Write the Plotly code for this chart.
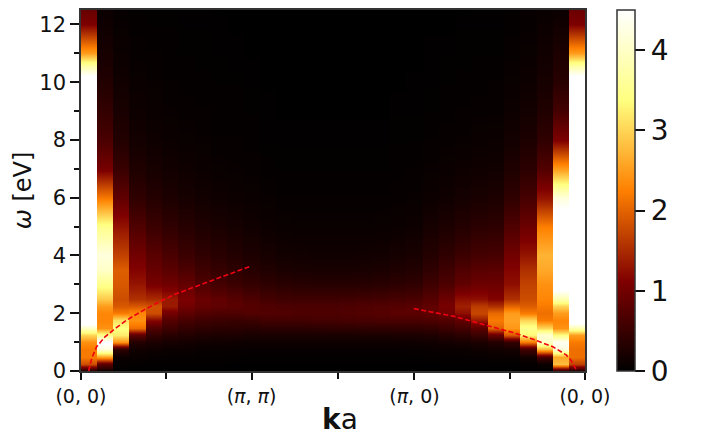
import plotly.graph_objects as go

omega = [0, .25, .5, .75, 1, 1.25, 1.5, 1.75, 2, 2.25, 2.5, 3, 3.5, 4, 5, 6, 7, 8, 9, 10, 10.5, 11, 12, 12.5]

col_00 = [.2, 1.8, 2.2, 2.2, 2.4, 3.0, 4.0, 5, 5, 5, 5, 5, 5, 5, 5, 5, 5, 5, 5, 5, 3.9, 2.5, 1.1, .9]
col_01 = [.1, .8, 2.5, 4.2, 4.6, 3.5, 2.4, 2.3, 2.3, 2.5, 2.9, 3.5, 4, 4.2, 3.5, 2.2, 1.05, .65, .45, .3, .25, .2, .13, .1]
col_02 = [0, .05, .1, .4, 2.4, 3.2, 3.4, 3.1, 2.2, 1.9, 1.8, 1.9, 1.95, 1.7, 1.3, .85, .5, .3, .22, .15, .12, .1, .07, .05]
col_03 = [0, .03, .08, .15, .3, .8, 2.1, 2.4, 2.3, 1.9, 1.55, 1.3, 1.15, 1, .7, .42, .27, .17, .12, .09, .07, .06, .04, .03]
col_04 = [0, .02, .06, .12, .25, .45, .7, 1.2, 1.8, 1.85, 1.5, 1.05, .9, .78, .52, .32, .2, .13, .09, .07, .05, .05, .03, .02]
col_05 = [0, .02, .05, .1, .2, .35, .55, .75, 1.0, 1.35, 1.35, .98, .8, .65, .42, .25, .16, .1, .07, .05, .04, .04, .03, .02]
col_06 = [0, .02, .05, .1, .18, .3, .45, .62, .82, 1.0, 1.08, .88, .68, .52, .34, .2, .13, .08, .06, .04, .04, .03, .02, .02]
col_07 = [0, .02, .04, .08, .15, .27, .4, .55, .72, .88, .92, .7, .55, .42, .27, .16, .1, .07, .05, .04, .03, .03, .02, .02]
col_08 = [0, .02, .04, .08, .14, .25, .38, .52, .68, .84, .84, .6, .47, .36, .23, .13, .08, .05, .04, .03, .03, .02, .02, .01]
col_09 = [0, .01, .04, .07, .13, .24, .37, .5, .68, .8, .76, .52, .4, .3, .19, .11, .07, .05, .04, .03, .02, .02, .01, .01]
col_10 = [0, .01, .03, .06, .12, .22, .35, .52, .72, .75, .68, .46, .34, .25, .15, .09, .06, .04, .03, .02, .02, .01, .01, .01]
col_11 = [0, .01, .03, .06, .12, .22, .38, .58, .72, .7, .6, .4, .28, .2, .11, .07, .04, .02, .02, .01, .01, .01, .01, 0]
col_12 = [0, .01, .03, .06, .12, .22, .38, .58, .7, .67, .56, .36, .24, .16, .09, .05, .03, .02, .01, .01, .01, .01, 0, 0]
col_13 = [0, .01, .03, .06, .12, .22, .38, .58, .68, .66, .55, .34, .22, .15, .08, .05, .03, .02, .01, .01, .01, .01, 0, 0]
col_14 = [0, .01, .03, .06, .12, .22, .39, .6, .68, .66, .55, .33, .21, .14, .08, .05, .03, .02, .01, .01, .01, .01, 0, 0]
col_15 = [0, .01, .03, .06, .12, .22, .4, .6, .68, .66, .55, .33, .21, .14, .08, .05, .03, .02, .01, .01, .01, .01, 0, 0]
col_16 = [0, .01, .03, .06, .12, .22, .4, .62, .7, .68, .56, .33, .21, .14, .08, .05, .03, .02, .01, .01, .01, .01, 0, 0]
col_17 = [0, .01, .03, .06, .12, .23, .41, .63, .72, .7, .58, .34, .22, .15, .08, .05, .03, .02, .01, .01, .01, .01, 0, 0]
col_18 = [0, .01, .03, .06, .12, .23, .42, .64, .75, .72, .6, .36, .24, .16, .09, .05, .03, .02, .01, .01, .01, .01, 0, 0]
col_19 = [0, .01, .03, .06, .13, .24, .42, .65, .8, .75, .62, .39, .27, .19, .1, .06, .04, .03, .02, .01, .01, .01, .01, 0]
col_20 = [0, .01, .03, .07, .13, .24, .42, .65, .8, .78, .65, .42, .3, .22, .12, .07, .05, .03, .02, .02, .01, .01, .01, .01]
col_21 = [0, .01, .04, .08, .15, .27, .45, .68, .85, .85, .75, .55, .42, .32, .2, .11, .07, .05, .03, .02, .02, .02, .01, .01]
col_22 = [0, .02, .05, .1, .18, .32, .52, .72, .98, 1.05, .95, .68, .55, .42, .25, .14, .09, .06, .04, .03, .03, .02, .01, .01]
col_23 = [0, .02, .05, .1, .2, .38, .6, .85, 1.25, 1.4, 1.25, .85, .7, .52, .32, .18, .12, .07, .05, .04, .03, .03, .02, .01]
col_24 = [0, .02, .06, .12, .25, .5, .8, 1.35, 1.75, 1.65, 1.25, .95, .78, .6, .38, .22, .14, .09, .06, .04, .04, .03, .02, .02]
col_25 = [0, .02, .08, .16, .3, .9, 2.0, 2.2, 2.05, 1.55, 1.15, .95, .8, .62, .4, .25, .15, .1, .06, .05, .04, .03, .02, .02]
col_26 = [0, .02, .08, .2, .45, 1.9, 2.45, 2.55, 2.5, 2.0, 1.55, 1.25, 1.15, 1.0, .7, .42, .27, .17, .12, .08, .07, .06, .04, .03]
col_27 = [.01, .04, .15, .6, 2.2, 3.3, 3.5, 3.0, 2.2, 1.95, 1.8, 1.7, 1.55, 1.3, .95, .62, .38, .25, .17, .12, .1, .08, .06, .05]
col_28 = [.01, .08, .6, 2.8, 4, 4.1, 3, 2.2, 2.1, 2.2, 2.3, 2.4, 2.6, 2.7, 2.25, 1.3, .72, .42, .28, .2, .17, .15, .1, .07]
col_29 = [.3, 2.8, 2.6, 4.2, 4.4, 3.4, 2.4, 2.3, 2.5, 3, 3.8, 5, 5, 5, 5, 4.2, 2.5, 1.1, .6, .35, .3, .25, .15, .1]
col_30 = [.2, 1.7, 2.1, 2.1, 2.2, 2.5, 3.8, 5, 5, 5, 5, 5, 5, 5, 5, 5, 5, 5, 5, 5, 3.9, 2.5, 1.1, .95]

columns = [col_00, col_01, col_02, col_03, col_04, col_05, col_06, col_07, col_08, col_09,
           col_10, col_11, col_12, col_13, col_14, col_15, col_16, col_17, col_18, col_19,
           col_20, col_21, col_22, col_23, col_24, col_25, col_26, col_27, col_28, col_29, col_30]

k_left = [0, .19, .49, 1.0, 1.62, 2.33, 3.35, 4.38, 5.4, 6.42, 7.44, 8.47, 9.9]
w_left = [0, .44, .84, 1.18, 1.47, 1.76, 2.1, 2.41, 2.68, 2.89, 3.11, 3.33, 3.62]
k_right = [19.96, 21.14, 22.37, 23.6, 24.83, 26.05, 27.28, 28.5, 29.33, 29.63, 29.94]
w_right = [2.16, 2.02, 1.9, 1.71, 1.53, 1.33, 1.10, .84, .55, .36, .03]

x_min, x_max = -0.47, 30.47
major_k = [x_min, 10, 20, x_max]
major_labels = ["(0, 0)", "(<i>π</i>, <i>π</i>)", "(<i>π</i>, 0)", "(0, 0)"]
minor_k = [4.76, 15.3, 25.85]
cbar_ticks = [0, 1, 2, 3, 4]

# Each column is a hard-edged block; only the energy direction is smoothed.
x_grid, z_rows = [], [[] for _ in omega]
eps = 1e-3
for i, col in enumerate(columns):
    x_grid += [max(i - .5, x_min) + (eps if i else 0), min(i + .5, x_max)]
    for r, v in enumerate(col):
        z_rows[r] += [v, v]

afmhot = [[0, "rgb(0,0,0)"], [.25, "rgb(128,0,0)"], [.5, "rgb(255,128,0)"],
          [.75, "rgb(255,255,128)"], [1, "rgb(255,255,255)"]]
font = "DejaVu Sans"
spine = "#333333"

fig = go.Figure()
fig.add_trace(go.Heatmap(
    x=x_grid, y=omega, z=z_rows, zmin=0, zmax=4.5, zsmooth="best", colorscale=afmhot,
    hoverinfo="skip",
    colorbar=dict(x=(618 - 81) / 504.5, xanchor="left", y=0, yanchor="bottom", len=1,
                  thickness=18, thicknessmode="pixels", outlinewidth=1.5, outlinecolor=spine,
                  tickmode="array", tickvals=cbar_ticks, ticks="outside", ticklen=10,
                  tickwidth=1.5, tickcolor="#111", xpad=0, ypad=0,
                  tickfont=dict(family=font, size=28, color="#111")),
))
for kx, wy in ((k_left, w_left), (k_right, w_right)):
    fig.add_trace(go.Scatter(x=kx, y=wy, mode="lines", hoverinfo="skip", showlegend=False,
                             line=dict(color="#f00010", width=1.6, dash="5px,2.5px")))

fig.update_layout(
    width=709, height=436, autosize=False, paper_bgcolor="white", plot_bgcolor="black",
    margin=dict(l=81, r=123.5, t=8, b=65), showlegend=False,
    font=dict(family=font, color="#111"),
    xaxis=dict(range=[x_min, x_max], tickmode="array", tickvals=major_k, ticktext=major_labels,
               ticks="outside", ticklen=7, tickwidth=1.5, tickcolor="#111",
               tickfont=dict(family=font, size=19), showgrid=False, zeroline=False,
               showline=True, linecolor=spine, linewidth=1.5, mirror=True,
               minor=dict(tickmode="array", tickvals=minor_k, ticks="outside", ticklen=6,
                          tickwidth=1.5, tickcolor="#111", showgrid=False)),
    yaxis=dict(range=[0, 12.5], tickmode="array", tickvals=[0, 2, 4, 6, 8, 10, 12],
               ticks="outside", ticklen=9, tickwidth=1.5, tickcolor="#111",
               tickfont=dict(family=font, size=21), showgrid=False, zeroline=False,
               showline=True, linecolor=spine, linewidth=1.5, mirror=True,
               minor=dict(tickmode="array", tickvals=[1, 3, 5, 7, 9, 11], ticks="outside",
                          ticklen=5, tickwidth=1.5, tickcolor="#111", showgrid=False),
               title=dict(text="<i>ω</i> [eV]", font=dict(family=font, size=24), standoff=1)),
    annotations=[dict(text="<b>k</b>a", xref="paper", yref="paper", x=(340 - 81) / 504.5, y=-(420 - 371) / 363,
                      xanchor="center", yanchor="middle", showarrow=False,
                      font=dict(family=font, size=28, color="#111"))],
)
fig.write_html("out.html", config={"displayModeBar": False},
               post_script="document.body.style.margin='0';")
